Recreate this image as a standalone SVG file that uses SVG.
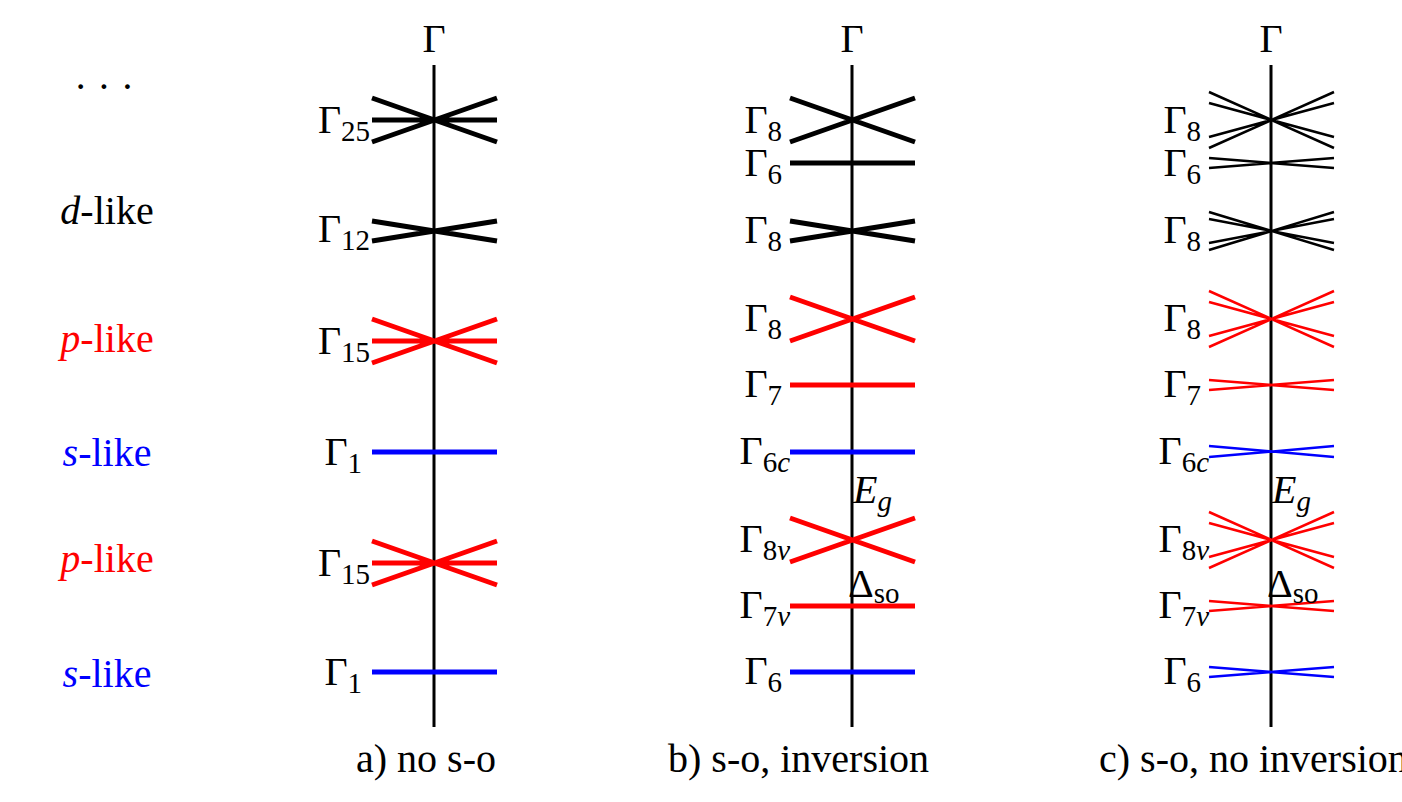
<svg xmlns="http://www.w3.org/2000/svg" width="1402" height="802" viewBox="0 0 1402 802" font-family="'Liberation Serif', 'Times New Roman', serif">
<style>
text{font-family:'Liberation Serif','Times New Roman',serif;font-size:40px}
.s{font-size:29px}
.i{font-style:italic}
.ax{stroke:#000;stroke-width:3;fill:none}
.k{stroke:#000;stroke-width:5;fill:none}
.r{stroke:#f00;stroke-width:5;fill:none}
.b{stroke:#00f;stroke-width:5;fill:none}
.kt{stroke:#000;stroke-width:2.5;fill:none}
.rt{stroke:#f00;stroke-width:2.5;fill:none}
.bt{stroke:#00f;stroke-width:2.5;fill:none}
</style>
<rect width="1402" height="802" fill="#fff"/>
<g id="side-labels" text-anchor="middle">
<text x="104" y="100">· · ·</text>
<text x="107" y="224"><tspan class="i">d</tspan>-like</text>
<text x="107" y="352" fill="#f00"><tspan class="i">p</tspan>-like</text>
<text x="107" y="466" fill="#00f"><tspan class="i">s</tspan>-like</text>
<text x="107" y="572" fill="#f00"><tspan class="i">p</tspan>-like</text>
<text x="107" y="687" fill="#00f"><tspan class="i">s</tspan>-like</text>
</g>
<g id="connectors">
<path class="ax" d="M434 65V727M852 65V727M1271 65V727"/>
<path class="k" d="M372 98L497 142M372 142L497 98M372 120H497"/>
<path class="k" d="M372 221L497 241M372 241L497 221"/>
<path class="r" d="M372 319L497 363M372 363L497 319M372 341H497"/>
<path class="b" d="M372 452H497"/>
<path class="r" d="M372 541L497 585M372 585L497 541M372 563H497"/>
<path class="b" d="M372 672H497"/>
<path class="k" d="M790 98L915 142M790 142L915 98"/>
<path class="k" d="M790 163H915"/>
<path class="k" d="M790 221L915 241M790 241L915 221"/>
<path class="r" d="M790 297L915 341M790 341L915 297"/>
<path class="r" d="M790 385H915"/>
<path class="b" d="M790 452H915"/>
<path class="r" d="M790 518L915 562M790 562L915 518"/>
<path class="r" d="M790 606H915"/>
<path class="b" d="M790 672H915"/>
<path class="kt" d="M1209 92L1334 148M1209 148L1334 92M1209 103L1334 137M1209 137L1334 103"/>
<path class="kt" d="M1209 158L1334 168M1209 168L1334 158"/>
<path class="kt" d="M1209 212L1334 250M1209 250L1334 212M1209 219L1334 243M1209 243L1334 219"/>
<path class="rt" d="M1209 291L1334 347M1209 347L1334 291M1209 302L1334 336M1209 336L1334 302"/>
<path class="rt" d="M1209 380L1334 390M1209 390L1334 380"/>
<path class="bt" d="M1209 446L1334 457M1209 457L1334 446"/>
<path class="rt" d="M1209 512L1334 568M1209 568L1334 512M1209 523L1334 557M1209 557L1334 523"/>
<path class="rt" d="M1209 601L1334 611M1209 611L1334 601"/>
<path class="bt" d="M1209 667L1334 677M1209 677L1334 667"/>
</g>
<g id="gamma-heads" text-anchor="middle">
<text x="434" y="52">Γ</text>
<text x="852" y="52">Γ</text>
<text x="1271" y="52">Γ</text>
</g>
<g id="labels-a" text-anchor="end">
<text x="370" y="133">Γ<tspan class="s" dy="8">25</tspan></text>
<text x="370" y="242">Γ<tspan class="s" dy="8">12</tspan></text>
<text x="370" y="354">Γ<tspan class="s" dy="8">15</tspan></text>
<text x="362" y="465">Γ<tspan class="s" dy="8">1</tspan></text>
<text x="370" y="576">Γ<tspan class="s" dy="8">15</tspan></text>
<text x="362" y="685">Γ<tspan class="s" dy="8">1</tspan></text>
</g>
<g id="labels-b" text-anchor="end">
<text x="782" y="133">Γ<tspan class="s" dy="8">8</tspan></text>
<text x="782" y="176">Γ<tspan class="s" dy="8">6</tspan></text>
<text x="782" y="243">Γ<tspan class="s" dy="8">8</tspan></text>
<text x="782" y="331">Γ<tspan class="s" dy="8">8</tspan></text>
<text x="782" y="397">Γ<tspan class="s" dy="8">7</tspan></text>
<text x="790" y="464">Γ<tspan class="s" dy="8">6<tspan class="i">c</tspan></tspan></text>
<text x="790" y="552">Γ<tspan class="s" dy="8">8<tspan class="i">v</tspan></tspan></text>
<text x="790" y="618">Γ<tspan class="s" dy="8">7<tspan class="i">v</tspan></tspan></text>
<text x="782" y="684">Γ<tspan class="s" dy="8">6</tspan></text>
</g>
<g id="gap-b">
<text x="853" y="503" class="i">E<tspan class="s" dy="8">g</tspan></text>
<text x="848" y="597">Δ<tspan class="s" dy="6">so</tspan></text>
</g>
<g id="labels-c" text-anchor="end">
<text x="1201" y="133">Γ<tspan class="s" dy="8">8</tspan></text>
<text x="1201" y="176">Γ<tspan class="s" dy="8">6</tspan></text>
<text x="1201" y="243">Γ<tspan class="s" dy="8">8</tspan></text>
<text x="1201" y="331">Γ<tspan class="s" dy="8">8</tspan></text>
<text x="1201" y="397">Γ<tspan class="s" dy="8">7</tspan></text>
<text x="1209" y="464">Γ<tspan class="s" dy="8">6<tspan class="i">c</tspan></tspan></text>
<text x="1209" y="552">Γ<tspan class="s" dy="8">8<tspan class="i">v</tspan></tspan></text>
<text x="1209" y="618">Γ<tspan class="s" dy="8">7<tspan class="i">v</tspan></tspan></text>
<text x="1201" y="684">Γ<tspan class="s" dy="8">6</tspan></text>
</g>
<g id="gap-c">
<text x="1272" y="503" class="i">E<tspan class="s" dy="8">g</tspan></text>
<text x="1267" y="597">Δ<tspan class="s" dy="6">so</tspan></text>
</g>
<g id="captions">
<text x="356" y="772">a) no s-o</text>
<text x="668" y="772">b) s-o, inversion</text>
<text x="1099" y="772">c) s-o, no inversion</text>
</g>
</svg>
